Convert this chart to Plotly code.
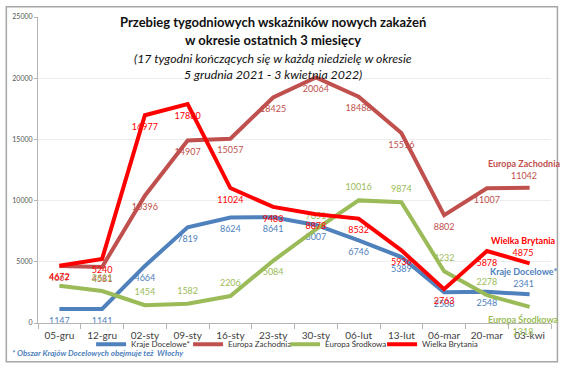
import plotly.graph_objects as go

# ---------------- data ----------------
categories = ["05-gru", "12-gru", "02-sty", "09-sty", "16-sty", "23-sty",
              "30-sty", "06-lut", "13-lut", "06-mar", "20-mar", "03-kwi"]
kraje_docelowe = [1147, 1141, 4664, 7819, 8624, 8641, 8007, 6746, 5389, 2508, 2548, 2341]
europa_zachodnia = [4667, 4581, 10396, 14907, 15057, 18425, 20064, 18488, 15516, 8802, 11007, 11042]
europa_srodkowa = [3050, 2611, 1454, 1582, 2206, 5084, 7651, 10016, 9874, 4232, 2278, 1318]
wielka_brytania = [4672, 5240, 16977, 17880, 11024, 9483, 8878, 8532, 5936, 2763, 5878, 4875]
series_names = ["Kraje Docelowe*", "Europa Zachodnia", "Europa Środkowa", "Wielka Brytania"]
y_ticks = [0, 5000, 10000, 15000, 20000, 25000]

title_lines = ["Przebieg tygodniowych wskaźników nowych zakażeń",
               "w okresie ostatnich 3 miesięcy"]
subtitle_lines = ["(17 tygodni kończących się w każdą niedzielę w okresie",
                  "5 grudnia 2021 - 3 kwietnia 2022)"]
footnote = "* Obszar Krajów Docelowych obejmuje też  Włochy"

# ---------------- styles ----------------
W, H = 564, 371
L, R, T, B = 33.5, 551.5, 12, 327
FONT = "Lato, 'Open Sans', sans-serif"
colors = ["#4F81BD", "#C0504D", "#9BBB59", "#FF0000"]


def px(x):
    return (x - L) / (R - L)


def py(y):
    return (B - y) / (B - T)


def labels(vals, hidden_idx):
    return ["" if i in hidden_idx else str(v) for i, v in enumerate(vals)]


n = len(categories)
last = n - 1
series = [kraje_docelowe, europa_zachodnia, europa_srodkowa, wielka_brytania]
text_lists = [
    labels(kraje_docelowe, {last}),
    labels(europa_zachodnia, {last}),
    labels(europa_srodkowa, {0, last}),
    labels(wielka_brytania, {last}),
]
positions = [
    ["bottom center"] * n,
    ["bottom center"] * n,
    ["top center", "top center", "top center", "top center", "top center", "bottom center",
     "top center", "top center", "top center", "top center", "top center", "bottom center"],
    ["bottom center"] * n,
]

fig = go.Figure()
for name, vals, col, txt, pos in zip(series_names, series, colors, text_lists, positions):
    fig.add_trace(go.Scatter(
        x=categories, y=vals, name=name, mode="lines+markers+text",
        line=dict(color=col, width=4),
        marker=dict(size=11, color="rgba(0,0,0,0)", line=dict(width=0)),
        text=txt, textposition=pos,
        textfont=dict(family=FONT, size=9, color=col),
        cliponaxis=False, hoverinfo="skip",
    ))

annotations = []
# end-of-series labels (name + last value)
end_cfg = [  # (series index, anchor, yshift)
    (0, "bottom", 3),
    (1, "bottom", 5),
    (2, "top", -5),
    (3, "bottom", 3),
]
for idx, anchor, ys in end_cfg:
    vals = series[idx]
    txt = f"<b>{series_names[idx]}</b><br>{vals[last]}"
    annotations.append(dict(
        x=categories[last], y=vals[last], xref="x", yref="y",
        text=txt, showarrow=False, xshift=-6, yshift=ys,
        yanchor=anchor, xanchor="center", align="center",
        font=dict(family=FONT, size=9, color=colors[idx]),
    ))

# title
for line, yy in zip(title_lines, [17, 36]):
    annotations.append(dict(x=px(271), y=py(yy), xref="paper", yref="paper",
                            text=f"<b>{line}</b>", showarrow=False,
                            xanchor="center", yanchor="middle",
                            font=dict(family=FONT, size=13, color="#111")))
for line, yy in zip(subtitle_lines, [55, 71]):
    annotations.append(dict(x=px(271), y=py(yy), xref="paper", yref="paper",
                            text=f"<i>{line}</i>", showarrow=False,
                            xanchor="center", yanchor="middle",
                            font=dict(family=FONT, size=12.3, color="#111")))
# footnote
annotations.append(dict(x=px(5), y=py(358), xref="paper", yref="paper",
                        text=f"<b><i>{footnote}</i></b>", showarrow=False,
                        xanchor="left", yanchor="middle",
                        font=dict(family=FONT, size=8, color="#4F81BD")))

fig.update_layout(
    width=W, height=H,
    margin=dict(l=L, r=W - R, t=T, b=H - B),
    paper_bgcolor="white", plot_bgcolor="white",
    showlegend=True,
    legend=dict(orientation="h", x=px(283), y=py(349), xanchor="center", yanchor="middle",
                font=dict(family=FONT, size=8, color="#333"),
                bgcolor="rgba(0,0,0,0)", itemwidth=30, tracegroupgap=0,
                entrywidth=52, entrywidthmode="pixels",
                traceorder="normal"),
    annotations=annotations,
    shapes=[dict(type="rect", xref="paper", yref="paper",
                 x0=px(1.5), x1=px(558), y0=py(367), y1=py(1.5),
                 line=dict(color="#a6a6a6", width=1.5), layer="below")],
)
fig.update_xaxes(type="category", range=[-0.5, n - 0.5], showline=True,
                 linecolor="#b5b5b5", linewidth=1, ticks="outside", tickson="boundaries",
                 ticklen=5, tickcolor="#b5b5b5", showgrid=False, ticklabelstandoff=3,
                 tickangle=0,
                 tickfont=dict(family=FONT, size=10, color="#404040"))
fig.update_yaxes(range=[0, 25000], tickvals=y_ticks, ticktext=[str(v) for v in y_ticks],
                 showline=True, linecolor="#b5b5b5",
                 ticks="outside", ticklen=3, tickcolor="#b5b5b5",
                 gridcolor="#ededed", zeroline=False,
                 tickfont=dict(family=FONT, size=7, color="#555"))

fig.write_html("out.html", config={"displayModeBar": False},
               post_script="document.body.style.margin='0';")
